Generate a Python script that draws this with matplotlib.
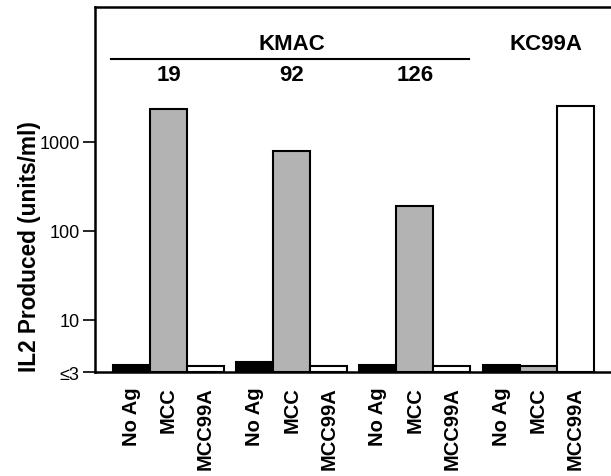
import numpy as np
import matplotlib
matplotlib.use('Agg')
import matplotlib.pyplot as plt
import matplotlib.transforms as mtransforms

plt.rcParams['font.family'] = ['Liberation Sans', 'DejaVu Sans']

# dati (IL2 in units/ml)
groups = ['19', '92', '126', 'KC99A']
antigens = ['No Ag', 'MCC', 'MCC99A']
no_ag = [3.1, 3.4, 3.1, 3.1]
mcc = [2350, 790, 192, 3.0]
mcc99a = [3.05, 3.05, 3.05, 2560]
colors = ['black', '#b3b3b3', 'white']

fig = plt.figure(figsize=(6.11, 4.77), dpi=100)
ax = fig.add_axes([95/611, 1-373.3/477, 1-95/611, (373.3-8)/477])

step = 3.33
ylow = 2.58
for i, vals in enumerate([no_ag, mcc, mcc99a]):
    x = np.arange(len(groups)) * step + i
    ax.bar(x, np.array(vals) - ylow, bottom=ylow, width=1.0, color=colors[i],
           edgecolor='black', linewidth=1.5)

xt = [g * step + i for g in range(len(groups)) for i in range(3)]
ax.set_xticks(xt)
ax.set_xticklabels(antigens * len(groups), rotation=90, fontsize=14.5, fontweight='bold')
ax.tick_params(axis='x', length=0, pad=10)

ax.set_yscale('log')
ax.set_ylim(ylow, 32900)
ax.set_xlim(-0.99, 12.96)
ax.set_yticks([ylow, 10, 100, 1000])
ax.set_yticklabels(['≤3', '10', '100', '1000'], fontsize=13)
ax.minorticks_off()
ax.tick_params(axis='y', length=9, width=1.2, pad=2)
ax.set_ylabel('IL2 Produced (units/ml)', fontsize=16.3, fontweight='bold')
ax.yaxis.set_label_coords(-0.105, 0.348)

for s in ax.spines.values():
    s.set_linewidth(1.8)
ax.spines['right'].set_visible(False)

trans = mtransforms.blended_transform_factory(ax.transData, ax.transAxes)
ax.text(step + 1, 0.899, 'KMAC', transform=trans, ha='center', va='center',
        fontsize=16, fontweight='bold')
ax.plot([-0.55, 2 * step + 2.46], [0.857, 0.857], transform=trans, color='black',
        linewidth=1.5, clip_on=False)
for g in range(3):
    ax.text(g * step + 1, 0.814, groups[g], transform=trans, ha='center', va='center',
            fontsize=16, fontweight='bold')
ax.text(3 * step + 1.2, 0.899, groups[3], transform=trans, ha='center', va='center',
        fontsize=16, fontweight='bold')

fig.savefig('out.png', dpi=100)
